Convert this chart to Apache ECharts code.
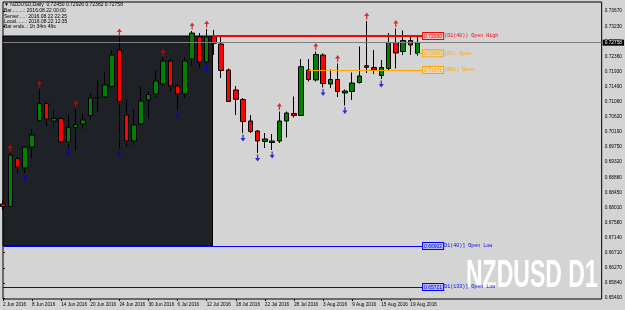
<!DOCTYPE html>
<html><head><meta charset="utf-8">
<script src="https://cdn.jsdelivr.net/npm/echarts@6/dist/echarts.min.js"></script>
<style>html,body{margin:0;padding:0;background:#d4d4d4}#c{width:625px;height:310px}</style>
</head><body><div id="c"></div>
<script>
const dates = ['2 Jun 2016','3 Jun 2016','6 Jun 2016','7 Jun 2016','8 Jun 2016','9 Jun 2016','10 Jun 2016','13 Jun 2016','14 Jun 2016','15 Jun 2016','16 Jun 2016','17 Jun 2016','20 Jun 2016','21 Jun 2016','22 Jun 2016','23 Jun 2016','24 Jun 2016','27 Jun 2016','28 Jun 2016','29 Jun 2016','30 Jun 2016','1 Jul 2016','4 Jul 2016','5 Jul 2016','6 Jul 2016','7 Jul 2016','8 Jul 2016','11 Jul 2016','12 Jul 2016','13 Jul 2016','14 Jul 2016','15 Jul 2016','18 Jul 2016','19 Jul 2016','20 Jul 2016','21 Jul 2016','22 Jul 2016','25 Jul 2016','26 Jul 2016','27 Jul 2016','28 Jul 2016','29 Jul 2016','1 Aug 2016','2 Aug 2016','3 Aug 2016','4 Aug 2016','5 Aug 2016','8 Aug 2016','9 Aug 2016','10 Aug 2016','11 Aug 2016','12 Aug 2016','15 Aug 2016','16 Aug 2016','17 Aug 2016','18 Aug 2016','19 Aug 2016','22 Aug 2016'];
const opens = [0.68112,0.68040,0.69422,0.69148,0.69753,0.70516,0.71006,0.70502,0.70574,0.69897,0.70315,0.70416,0.70660,0.71179,0.71193,0.71496,0.72547,0.70675,0.69926,0.70416,0.71107,0.71280,0.71568,0.72230,0.71510,0.71280,0.72288,0.72930,0.72201,0.72930,0.72720,0.71971,0.71395,0.71121,0.70502,0.70214,0.69912,0.69883,0.69926,0.70502,0.70718,0.70660,0.71971,0.71683,0.72403,0.71568,0.71697,0.71308,0.71352,0.71611,0.72095,0.72043,0.71812,0.72014,0.72763,0.72504,0.72820,0.72450];
const highs = [0.68227,0.69580,0.69465,0.69782,0.70272,0.71424,0.71035,0.70804,0.70603,0.70675,0.70862,0.70718,0.71294,0.71683,0.71899,0.72547,0.72921,0.71121,0.70833,0.71496,0.71352,0.71971,0.72331,0.72288,0.71553,0.72345,0.73094,0.73036,0.73152,0.73123,0.72936,0.72014,0.71510,0.71164,0.70675,0.70243,0.70156,0.70128,0.70776,0.70776,0.71208,0.72288,0.72288,0.72504,0.72446,0.71985,0.72158,0.71409,0.71899,0.72648,0.73382,0.72547,0.72259,0.73036,0.73166,0.73108,0.72921,0.72926];
const lows = [0.67939,0.67996,0.69004,0.69004,0.69436,0.70473,0.70358,0.70286,0.69868,0.69724,0.69667,0.70272,0.70531,0.70776,0.71164,0.71452,0.69724,0.69753,0.69811,0.70387,0.70560,0.71179,0.71510,0.71352,0.70833,0.71164,0.72115,0.72028,0.72172,0.72403,0.71740,0.71049,0.70675,0.70156,0.70156,0.69580,0.69724,0.69667,0.69868,0.70027,0.70603,0.70646,0.71640,0.71640,0.71467,0.71452,0.71193,0.70948,0.71107,0.71582,0.71884,0.71856,0.71712,0.71971,0.72014,0.72403,0.72403,0.72382];
const closes = [0.68040,0.69523,0.69177,0.69753,0.70099,0.71006,0.70560,0.70574,0.69897,0.70315,0.70401,0.70531,0.71164,0.71164,0.71539,0.72403,0.71064,0.69926,0.70387,0.71078,0.71265,0.71654,0.72230,0.71510,0.71280,0.72230,0.73036,0.72201,0.72921,0.72740,0.71956,0.71064,0.71127,0.70488,0.70200,0.69926,0.69984,0.69926,0.70502,0.70732,0.70660,0.72066,0.71697,0.72417,0.71582,0.71697,0.71352,0.71366,0.71596,0.71798,0.72049,0.71971,0.72043,0.72763,0.72460,0.72820,0.72691,0.72758];
const fractalUp = [1,5,10,16,22,26,28,38,43,46,50,54];
const fractalDown = [3,9,16,24,28,33,35,37,44,47,52];
const yTicks = [0.65400,0.65840,0.66270,0.66710,0.67140,0.67580,0.68010,0.68450,0.68880,0.69320,0.69750,0.70190,0.70620,0.71060,0.71490,0.71930,0.72360,0.72790,0.73230,0.73670];
const xTickIdx = [0,4,8,12,16,20,24,28,32,36,40,44,48,52,56];
const bidPrice = 0.72758;
const levelPrices = [0.72950,0.72450,0.71971,0.66902,0.65721];
const levelText = ['(D1(40)) Open High','(D1) Open','(MN1) Open','D1(40)] Open Low','D1(133)] Open Low'];
const levelStart = [28.8,57,42,0,0];
const levelColors = ['#ff0000','#ffa500','#ffa500','#0000ff','#0000ff'];
const boxFill = ['#f2c0c0','#e6d6b8','#e6d6b8','#b8b8f0','#b8b8f0'];
const rectRange = [0, 28.8, 0.72950, 0.66902];

const chart = echarts.init(document.getElementById('c'));
const XMAX = 82.3, LABEL_X = 57.75;
const candleData = dates.map((d,i)=>[i, opens[i], closes[i], lows[i], highs[i]]);
const mono = 'Liberation Mono';
const sans = 'Liberation Sans';
const levelLines = levelPrices.map((p,k)=>[
  {coord:[levelStart[k], p], lineStyle:{color:levelColors[k], width: k===0?2:1, type:'solid'}},
  {coord:[LABEL_X, p], label:{show:true, position:'end', distance:0,
    formatter:'{b|'+p.toFixed(5)+'}{t|'+levelText[k]+'}',
    rich:{b:{color:levelColors[k], backgroundColor:boxFill[k], borderColor:levelColors[k], borderWidth:1, padding:[1,1,0,1], fontSize:5, fontFamily:sans},
          t:{color:levelColors[k], fontSize:5, fontFamily:mono, padding:[0,0,0,1]}}}}
]);

const option = {
  animation:false,
  backgroundColor:'#d4d4d4',
  grid:{left:2, right:20, top:2, bottom:11, show:true, borderColor:'#000', borderWidth:1, backgroundColor:'#d4d4d4'},
  xAxis:{type:'value', min:0, max:XMAX, axisLine:{show:false}, splitLine:{show:false},
    axisTick:{show:true, customValues:xTickIdx, length:2, lineStyle:{color:'#000'}},
    axisLabel:{show:true, customValues:xTickIdx, formatter:v=>dates[v]||'', fontSize:4.7, color:'#000', align:'left', margin:3, fontFamily:sans}},
  yAxis:{type:'value', position:'right', min:0.653756, max:0.739292, scale:true, axisLine:{show:false}, splitLine:{show:false},
    axisTick:{show:true, customValues:yTicks, length:2, lineStyle:{color:'#000'}},
    axisLabel:{show:true, customValues:yTicks, formatter:v=>v.toFixed(5), fontSize:4.8, color:'#000', margin:3, fontFamily:sans}},
  series:[
    {type:'line', data:[], z:1, markLine:{silent:true, symbol:'none', animation:false,
      lineStyle:{color:'#808080', width:1, type:'solid'},
      data:[[{coord:[0,bidPrice]},{coord:[XMAX,bidPrice]}]],
      label:{show:true, position:'end', distance:1, formatter:bidPrice.toFixed(5), color:'#fff', backgroundColor:'#000', padding:[1,2,0,2], fontSize:4.8, fontFamily:sans}}},
    {type:'line', data:[], z:2, markArea:{silent:true, itemStyle:{color:'#1e2126', borderColor:'#000', borderWidth:1},
      data:[[{coord:[rectRange[0], rectRange[2]]},{coord:[rectRange[1], rectRange[3]]}]]}},
    {type:'line', data:[], z:3, markLine:{silent:true, symbol:'none', animation:false, data:levelLines}},
    {type:'candlestick', z:4, barWidth:5, data:candleData, encode:{x:0, y:[1,2,3,4]},
      itemStyle:{color:'#008000', color0:'#ff0000', borderColor:'#000', borderColor0:'#000', borderWidth:1}},
    {type:'scatter', z:5, data:fractalUp.map(i=>[i, highs[i]]), symbol:'path://M4,0 L8,5 L5,5 L5,10 L3,10 L3,5 L0,5 Z', symbolSize:[5,7], symbolOffset:[0,-5], itemStyle:{color:'#e00000'}},
    {type:'scatter', z:5, data:fractalDown.map(i=>[i, lows[i]]), symbol:'path://M3,0 L5,0 L5,5 L8,5 L4,10 L0,5 L3,5 Z', symbolSize:[5,7], symbolOffset:[0,5], itemStyle:{color:'#0000e0'}}
  ],
  graphic:[
    {type:'text', x:4, y:2, style:{text:'\u25BC NZDUSD,Daily  0.72450 0.72926 0.72382 0.72758', font:'5px Liberation Sans', fill:'#000'}},
    {type:'text', x:4, y:8.5, style:{text:'Bar.........: 2016.08.22 00:00\nServer.....: 2016.08.22 22:25\nLocal.......: 2016.08.22 12:35\nBar ends..: 1h 34m 46s', font:'5px Liberation Sans', fill:'#000', lineHeight:5.2}},
    {type:'text', x:466, y:276, scaleX:0.59, style:{text:'NZDUSD D1', font:'bold 39px Liberation Sans', fill:'#ffffff', textVerticalAlign:'middle'}}
  ]
};
chart.setOption(option);
</script></body></html>
